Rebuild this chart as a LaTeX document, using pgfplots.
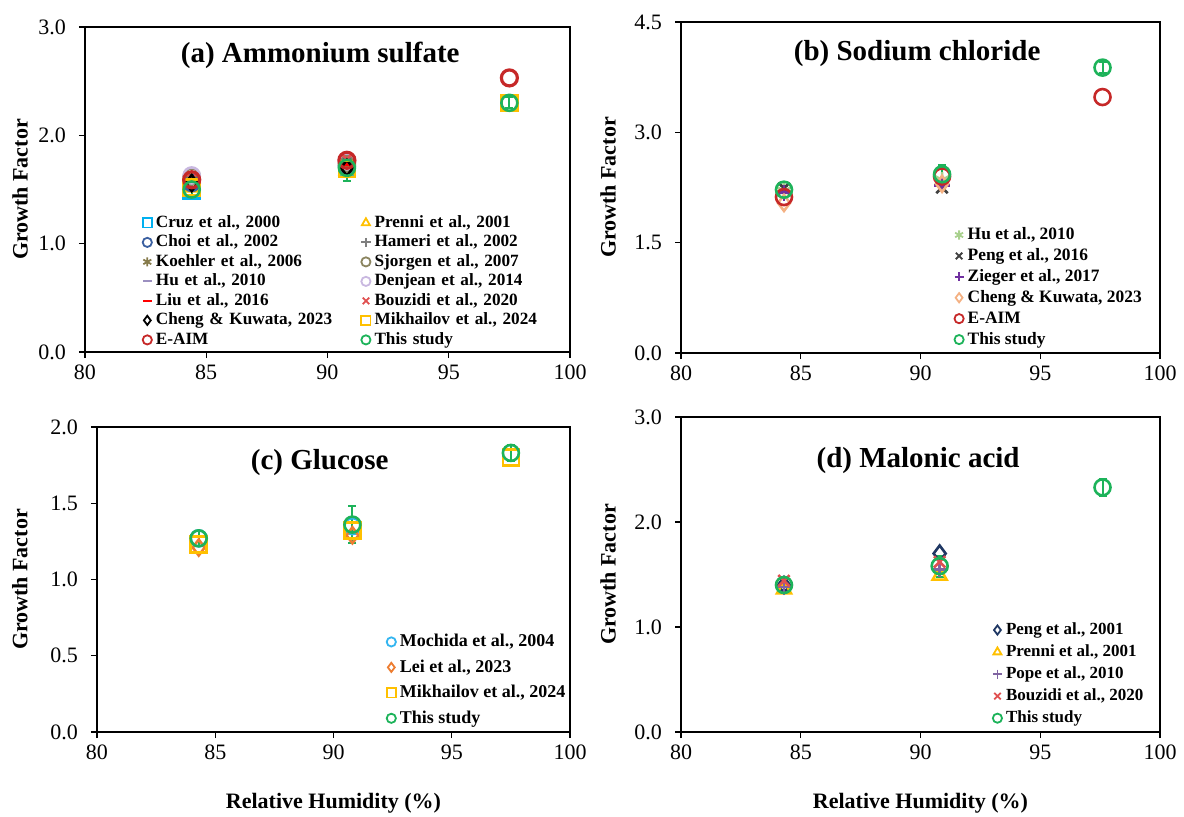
\documentclass[border=0pt]{standalone}
\usepackage{fontspec}
\setmainfont{Liberation Serif}
\usepackage{pgfplots}
\pgfplotsset{compat=1.18}

\definecolor{cCruz}{HTML}{00B0F0}
\definecolor{cPrenni}{HTML}{FFC000}
\definecolor{cChoi}{HTML}{3A5FA0}
\definecolor{cHameri}{HTML}{7F7F7F}
\definecolor{cKoehler}{HTML}{857A4A}
\definecolor{cSjorgen}{HTML}{8B8560}
\definecolor{cHuA}{HTML}{9B8FC0}
\definecolor{cDenjean}{HTML}{C9B8E0}
\definecolor{cLiu}{HTML}{FF0000}
\definecolor{cBouzidi}{HTML}{E05050}
\definecolor{cMikh}{HTML}{FFC000}
\definecolor{cEAIM}{HTML}{C62828}
\definecolor{cThis}{HTML}{1DB35A}
\definecolor{cHuB}{HTML}{A9D18E}
\definecolor{cPengB}{HTML}{404040}
\definecolor{cZieger}{HTML}{7030A0}
\definecolor{cChengB}{HTML}{F4B183}
\definecolor{cMochida}{HTML}{33B5F0}
\definecolor{cLei}{HTML}{ED7D31}
\definecolor{cPengD}{HTML}{203864}
\definecolor{cPope}{HTML}{8064A2}

\pgfplotsset{
  gfbase/.style={
    scale only axis,
    xmin=80, xmax=100, xtick={80,85,...,100},
    axis line style={line width=1.1pt},
    tick style={black, line width=0.6pt},
    tick align=outside, major tick length=3pt,
    xtick pos=left, ytick pos=left,
    /pgf/number format/assume math mode=true,
    tick label style={font=\fontsize{11}{13}\selectfont},
    yticklabel style={/pgf/number format/fixed, /pgf/number format/fixed zerofill, /pgf/number format/precision=1, xshift=-3pt},
    xticklabel style={/pgf/number format/fixed},
    label style={font=\fontsize{11}{13}\selectfont\bfseries},
    title style={font=\fontsize{14.5}{17}\selectfont\bfseries, anchor=center, yshift=-6pt},
    legend cell align=left,
    legend image code/.code={\draw[mark size=2.3pt, line width=0.9pt] plot coordinates {(0pt,0pt)};},
    every axis plot/.append style={only marks, mark size=4pt, line width=1.3pt},
    error bars/error bar style={line width=1pt, solid},
    error bars/error mark options={rotate=90, mark size=2pt, line width=1pt},
    ylabel={Growth Factor},
  },
}

\begin{document}
\begin{tikzpicture}
\useasboundingbox (0pt,0pt) rectangle (592pt,-408pt);

% ---------------- (a) Ammonium sulfate ----------------
\begin{axis}[gfbase,
  at={(42.5pt,-176pt)}, anchor=south west,
  width=242.5pt, height=162.5pt,
  ymin=0, ymax=3, ytick={0,1,2,3},
  title={(a) Ammonium sulfate},
  title style={at={(axis description cs:0.485,0.914)}},
  ylabel style={at={(axis description cs:-0.134,0.5)}, anchor=center},
  legend columns=2,
  legend style={draw=none, fill=none, inner sep=0pt, outer sep=0pt,
    at={(axis description cs:0.119,0.423)}, anchor=north west,
    font=\fontsize{8.6}{10}\selectfont\bfseries,
    nodes={inner sep=0pt, text height=6.45pt, text depth=1.9pt, text width=98pt},
    row sep=1.4pt,
    /tikz/every odd column/.append style={column sep=2pt},
    /tikz/every even column/.append style={column sep=4.7pt}},
]
\addplot[cCruz, mark=square] coordinates {(84.4,1.49) (90.8,1.70)};
\addlegendentry{Cruz et al., 2000}
\addplot[cPrenni, mark=triangle] coordinates {(84.4,1.52) (90.8,1.68)};
\addlegendentry{Prenni et al., 2001}
\addplot[cChoi, mark=o] coordinates {(84.4,1.56) (90.8,1.72)};
\addlegendentry{Choi et al., 2002}
\addplot[cHameri, mark=+] coordinates {(84.4,1.55) (90.8,1.73)};
\addlegendentry{Hameri et al., 2002}
\addplot[cKoehler, mark=asterisk] coordinates {(84.4,1.60) (90.8,1.75)};
\addlegendentry{Koehler et al., 2006}
\addplot[cSjorgen, mark=o] coordinates {(84.4,1.62) (90.8,1.74)};
\addlegendentry{Sjorgen et al., 2007}
\addplot[cHuA, mark=-, mark size=3pt] coordinates {(84.4,1.57) (90.8,1.73)};
\addlegendentry{Hu et al., 2010}
\addplot[cDenjean, mark=o] coordinates {(84.4,1.63) (90.8,1.76)};
\addlegendentry{Denjean et al., 2014}
\addplot[cLiu, mark=-, line width=2pt] coordinates {(84.4,1.58) (90.8,1.74)};
\addlegendentry{Liu et al., 2016}
\addplot[cBouzidi, mark=x] coordinates {(84.4,1.60) (90.8,1.78)};
\addlegendentry{Bouzidi et al., 2020}
\addplot[black, mark=diamond] coordinates {(84.4,1.56) (90.8,1.70)};
\addlegendentry{Cheng \& Kuwata, 2023}
\addplot[cMikh, mark=square] coordinates {(84.4,1.52) (90.8,1.69) (97.5,2.30)};
\addlegendentry{Mikhailov et al., 2024}
\addplot[cEAIM, mark=o, line width=1.6pt] coordinates {(84.4,1.59) (90.8,1.77) (97.5,2.53)};
\addlegendentry{E-AIM}
\addplot[cThis, mark=o, error bars/.cd, y dir=both, y explicit] coordinates {(84.4,1.50) +- (0,0.08) (90.8,1.70) +- (0,0.12) (97.5,2.30) +- (0,0.05)};
\addlegendentry{This study}
\end{axis}

% ---------------- (b) Sodium chloride ----------------
\begin{axis}[gfbase,
  at={(340.5pt,-176.5pt)}, anchor=south west,
  width=239.5pt, height=165.5pt,
  ymin=0, ymax=4.5, ytick={0,1.5,3,4.5},
  title={(b) Sodium chloride},
  title style={at={(axis description cs:0.493,0.906)}},
  ylabel style={at={(axis description cs:-0.152,0.5)}, anchor=center},
  legend style={draw=none, fill=none, inner sep=0pt, outer sep=0pt,
    at={(axis description cs:0.571,0.382)}, anchor=north west,
    font=\fontsize{8.7}{10}\selectfont\bfseries,
    nodes={inner sep=0pt, text height=6.5pt, text depth=1.9pt},
    row sep=2.06pt,
    /tikz/every odd column/.append style={column sep=2pt}},
]
\addplot[cHuB, mark=asterisk] coordinates {(84.3,2.20) (90.9,2.35)};
\addlegendentry{Hu et al., 2010}
\addplot[cPengB, mark=x] coordinates {(84.3,2.24) (90.9,2.25)};
\addlegendentry{Peng et al., 2016}
\addplot[cZieger, mark=+] coordinates {(84.3,2.18) (90.9,2.28)};
\addlegendentry{Zieger et al., 2017}
\addplot[cChengB, mark=diamond] coordinates {(84.3,2.04) (90.9,2.30)};
\addlegendentry{Cheng \& Kuwata, 2023}
\addplot[cEAIM, mark=o] coordinates {(84.3,2.12) (90.9,2.40) (97.6,3.48)};
\addlegendentry{E-AIM}
\addplot[cThis, mark=o, error bars/.cd, y dir=both, y explicit] coordinates {(84.3,2.22) +- (0,0.05) (90.9,2.43) +- (0,0.12) (97.6,3.88) +- (0,0.07)};
\addlegendentry{This study}
\end{axis}

% ---------------- (c) Glucose ----------------
\begin{axis}[gfbase,
  at={(48.5pt,-366pt)}, anchor=south west,
  width=236.5pt, height=152.5pt,
  ymin=0, ymax=2, ytick={0,0.5,1,1.5,2},
  title={(c) Glucose},
  title style={at={(axis description cs:0.471,0.885)}},
  ylabel style={at={(axis description cs:-0.163,0.5)}, anchor=center},
  xlabel={Relative Humidity (\%)},
  xlabel style={at={(axis description cs:0.5,-0.233)}, anchor=center},
  legend style={draw=none, fill=none, inner sep=0pt, outer sep=0pt,
    at={(axis description cs:0.6125,0.324)}, anchor=north west,
    font=\fontsize{9}{11}\selectfont\bfseries,
    nodes={inner sep=0pt, text height=6.75pt, text depth=1.98pt},
    row sep=4.0pt,
    /tikz/every odd column/.append style={column sep=2pt}},
]
\addplot[cMochida, mark=o] coordinates {(84.3,1.27) (90.8,1.35)};
\addlegendentry{Mochida et al., 2004}
\addplot[cLei, mark=diamond] coordinates {(84.3,1.21) (90.8,1.29)};
\addlegendentry{Lei et al., 2023}
\addplot[cMikh, mark=square] coordinates {(84.3,1.23) (90.8,1.32) (97.5,1.80)};
\addlegendentry{Mikhailov et al., 2024}
\addplot[cThis, mark=o, error bars/.cd, y dir=both, y explicit] coordinates {(84.3,1.27) +- (0,0.05) (90.8,1.36) +- (0,0.12) (97.5,1.83) +- (0,0.05)};
\addlegendentry{This study}
\end{axis}

% ---------------- (d) Malonic acid ----------------
\begin{axis}[gfbase,
  at={(340.5pt,-366pt)}, anchor=south west,
  width=239.5pt, height=157.5pt,
  ymin=0, ymax=3, ytick={0,1,2,3},
  title={(d) Malonic acid},
  title style={at={(axis description cs:0.495,0.863)}},
  ylabel style={at={(axis description cs:-0.152,0.5)}, anchor=center},
  xlabel={Relative Humidity (\%)},
  xlabel style={at={(axis description cs:0.5,-0.225)}, anchor=center},
  legend style={draw=none, fill=none, inner sep=0pt, outer sep=0pt,
    at={(axis description cs:0.651,0.350)}, anchor=north west,
    font=\fontsize{8.5}{10}\selectfont\bfseries,
    nodes={inner sep=0pt, text height=6.4pt, text depth=1.87pt},
    row sep=2.75pt,
    /tikz/every odd column/.append style={column sep=2pt}},
]
\addplot[cPengD, mark=diamond] coordinates {(84.3,1.40) (90.8,1.70)};
\addlegendentry{Peng et al., 2001}
\addplot[cPrenni, mark=triangle] coordinates {(84.3,1.36) (90.8,1.49)};
\addlegendentry{Prenni et al., 2001}
\addplot[cPope, mark=+] coordinates {(84.3,1.38) (90.8,1.55)};
\addlegendentry{Pope et al., 2010}
\addplot[cBouzidi, mark=x] coordinates {(84.3,1.44) (90.8,1.62)};
\addlegendentry{Bouzidi et al., 2020}
\addplot[cThis, mark=o, error bars/.cd, y dir=both, y explicit] coordinates {(84.3,1.40) +- (0,0.05) (90.8,1.58) +- (0,0.10) (97.6,2.33) +- (0,0.08)};
\addlegendentry{This study}
\end{axis}
\end{tikzpicture}
\end{document}
